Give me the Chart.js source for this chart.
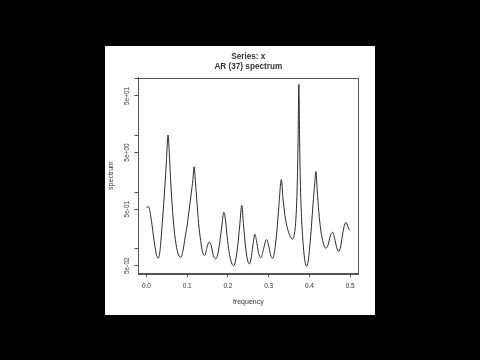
<!DOCTYPE html>
<html>
<head>
<meta charset="utf-8">
<script src="https://cdn.jsdelivr.net/npm/chart.js@4/dist/chart.umd.min.js"></script>
<style>
  html, body { margin: 0; padding: 0; background: #000; }
  #wrap { width: 480px; height: 360px; }
</style>
</head>
<body>
<div id="wrap"><canvas id="specChart" width="480" height="360"></canvas></div>
<script>
// AR(37) spectrum
const freqs = [
  0.000, 0.005, 0.010, 0.015, 0.020, 0.025, 0.029, 0.033, 0.037, 0.041,
  0.045, 0.049, 0.053, 0.056, 0.059, 0.063, 0.068, 0.074, 0.080, 0.085,
  0.090, 0.095, 0.100, 0.105, 0.110, 0.114, 0.117, 0.120, 0.124, 0.128,
  0.133, 0.138, 0.143, 0.148, 0.152, 0.155, 0.159, 0.164, 0.170, 0.175,
  0.180, 0.185, 0.190, 0.194, 0.199, 0.204, 0.209, 0.214, 0.219, 0.224,
  0.229, 0.234, 0.238, 0.243, 0.248, 0.253, 0.258, 0.262, 0.266, 0.270,
  0.275, 0.281, 0.286, 0.291, 0.295, 0.300, 0.305, 0.310, 0.315, 0.320,
  0.325, 0.331, 0.335, 0.340, 0.346, 0.352, 0.358, 0.363, 0.367, 0.370,
  0.372, 0.374, 0.376, 0.378, 0.381, 0.385, 0.389, 0.393, 0.397, 0.401,
  0.405, 0.409, 0.413, 0.416, 0.419, 0.423, 0.428, 0.434, 0.440, 0.446,
  0.451, 0.457, 0.462, 0.467, 0.472, 0.477, 0.482, 0.487, 0.490, 0.494,
  0.497, 0.500
];
const spectrum = [
  0.54, 0.55, 0.40, 0.22, 0.12, 0.076, 0.068, 0.089, 0.19, 0.45,
  1.2, 3.5, 10.2, 5.0, 1.8, 0.60, 0.22, 0.105, 0.074, 0.071,
  0.095, 0.16, 0.26, 0.50, 0.95, 1.66, 2.8, 1.58, 0.66, 0.28,
  0.14, 0.085, 0.076, 0.10, 0.126, 0.13, 0.112, 0.076, 0.066, 0.079,
  0.13, 0.25, 0.44, 0.32, 0.14, 0.079, 0.056, 0.050, 0.063, 0.112,
  0.26, 0.58, 0.28, 0.112, 0.063, 0.054, 0.076, 0.126, 0.18, 0.14,
  0.085, 0.069, 0.089, 0.126, 0.145, 0.112, 0.076, 0.068, 0.095, 0.20,
  0.56, 1.66, 0.79, 0.38, 0.23, 0.17, 0.148, 0.18, 0.35, 1.26,
  6.3, 80, 8.0, 1.26, 0.32, 0.112, 0.060, 0.049, 0.060, 0.112,
  0.25, 0.63, 1.41, 2.3, 1.12, 0.45, 0.21, 0.126, 0.102, 0.117,
  0.166, 0.195, 0.15, 0.105, 0.089, 0.112, 0.19, 0.275, 0.29, 0.25,
  0.22, 0.214
];

// axis ticks
const xTicks = [0, 0.1, 0.2, 0.3, 0.4, 0.5];
const yTicks = [0.05, 0.1, 0.5, 1, 5, 10, 50, 100];
const yTickLabels = ['5e-02', '', '5e-01', '', '5e+00', '', '5e+01', ''];

const mainTitle = ['Series: x', 'AR (37) spectrum'];
const xTitle = 'frequency';
const yTitle = 'spectrum';

const FONT = '"Liberation Sans", Arial, sans-serif';
const INK = '#333';

// black page, white panel, box and the text R puts around the plot
const rPlotDecor = {
  id: 'rPlotDecor',
  beforeDraw(chart) {
    const c = chart.ctx;
    c.save();
    c.fillStyle = '#000';
    c.fillRect(0, 0, chart.width, chart.height);
    c.fillStyle = '#fff';
    c.fillRect(105, 46, 270, 269);
    c.restore();
  },
  afterDraw(chart) {
    const c = chart.ctx;
    const a = chart.chartArea;
    const yScale = chart.scales.y;
    c.save();
    c.strokeStyle = '#555';
    c.lineWidth = 1;
    c.strokeRect(Math.round(a.left) + 0.5, Math.round(a.top) + 0.5,
      Math.round(a.right - a.left), Math.round(a.bottom - a.top));

    const cx = (a.left + a.right) / 2;
    c.fillStyle = INK;
    c.textAlign = 'center';
    c.textBaseline = 'middle';
    c.font = 'bold 8.2px ' + FONT;
    c.fillText(mainTitle[0], cx, 57);
    c.fillText(mainTitle[1], cx, 66.5);

    c.font = '7px ' + FONT;
    c.fillText(xTitle, cx, 302.5);

    c.save();
    c.translate(110.7, (a.top + a.bottom) / 2);
    c.rotate(-Math.PI / 2);
    c.fillText(yTitle, 0, 0);
    c.restore();

    c.font = '6.5px ' + FONT;
    yTicks.forEach((v, i) => {
      if (!yTickLabels[i]) return;
      const py = yScale.getPixelForValue(v);
      c.save();
      c.translate(127.5, py);
      c.rotate(-Math.PI / 2);
      c.fillText(yTickLabels[i], 0, 0);
      c.restore();
    });
    c.restore();
  }
};

const ctx = document.getElementById('specChart').getContext('2d');
const specChart = new Chart(ctx, {
  type: 'line',
  data: {
    datasets: [{
      label: 'spectrum',
      data: freqs.map((f, i) => ({ x: f, y: spectrum[i] })),
      borderColor: '#2b2b2b',
      borderWidth: 1,
      pointRadius: 0,
      fill: false,
      cubicInterpolationMode: 'monotone'
    }]
  },
  options: {
    responsive: false,
    animation: false,
    layout: {
      padding: { left: 118.3, right: 121.7, top: 77.7, bottom: 56.7 }
    },
    plugins: {
      legend: { display: false },
      tooltip: { enabled: false },
      title: { display: false }
    },
    scales: {
      x: {
        type: 'linear',
        min: -0.02,
        max: 0.52,
        afterBuildTicks: scale => { scale.ticks = xTicks.map(v => ({ value: v })); },
        afterFit: scale => { scale.height = 30; },
        grid: { drawOnChartArea: false, drawTicks: true, tickLength: 4, color: '#555' },
        border: { display: true, color: '#555' },
        ticks: {
          color: INK,
          font: { family: FONT, size: 6.5 },
          padding: 5,
          maxRotation: 0,
          callback: v => v.toFixed(1)
        }
      },
      y: {
        type: 'logarithmic',
        min: 0.0367,
        max: 105,
        afterBuildTicks: scale => { scale.ticks = yTicks.map(v => ({ value: v })); },
        afterFit: scale => { scale.width = 20; },
        grid: { drawOnChartArea: false, drawTicks: true, tickLength: 4, color: '#555' },
        border: { display: true, color: '#555' },
        ticks: { display: false }
      }
    }
  },
  plugins: [rPlotDecor]
});
</script>
</body>
</html>
